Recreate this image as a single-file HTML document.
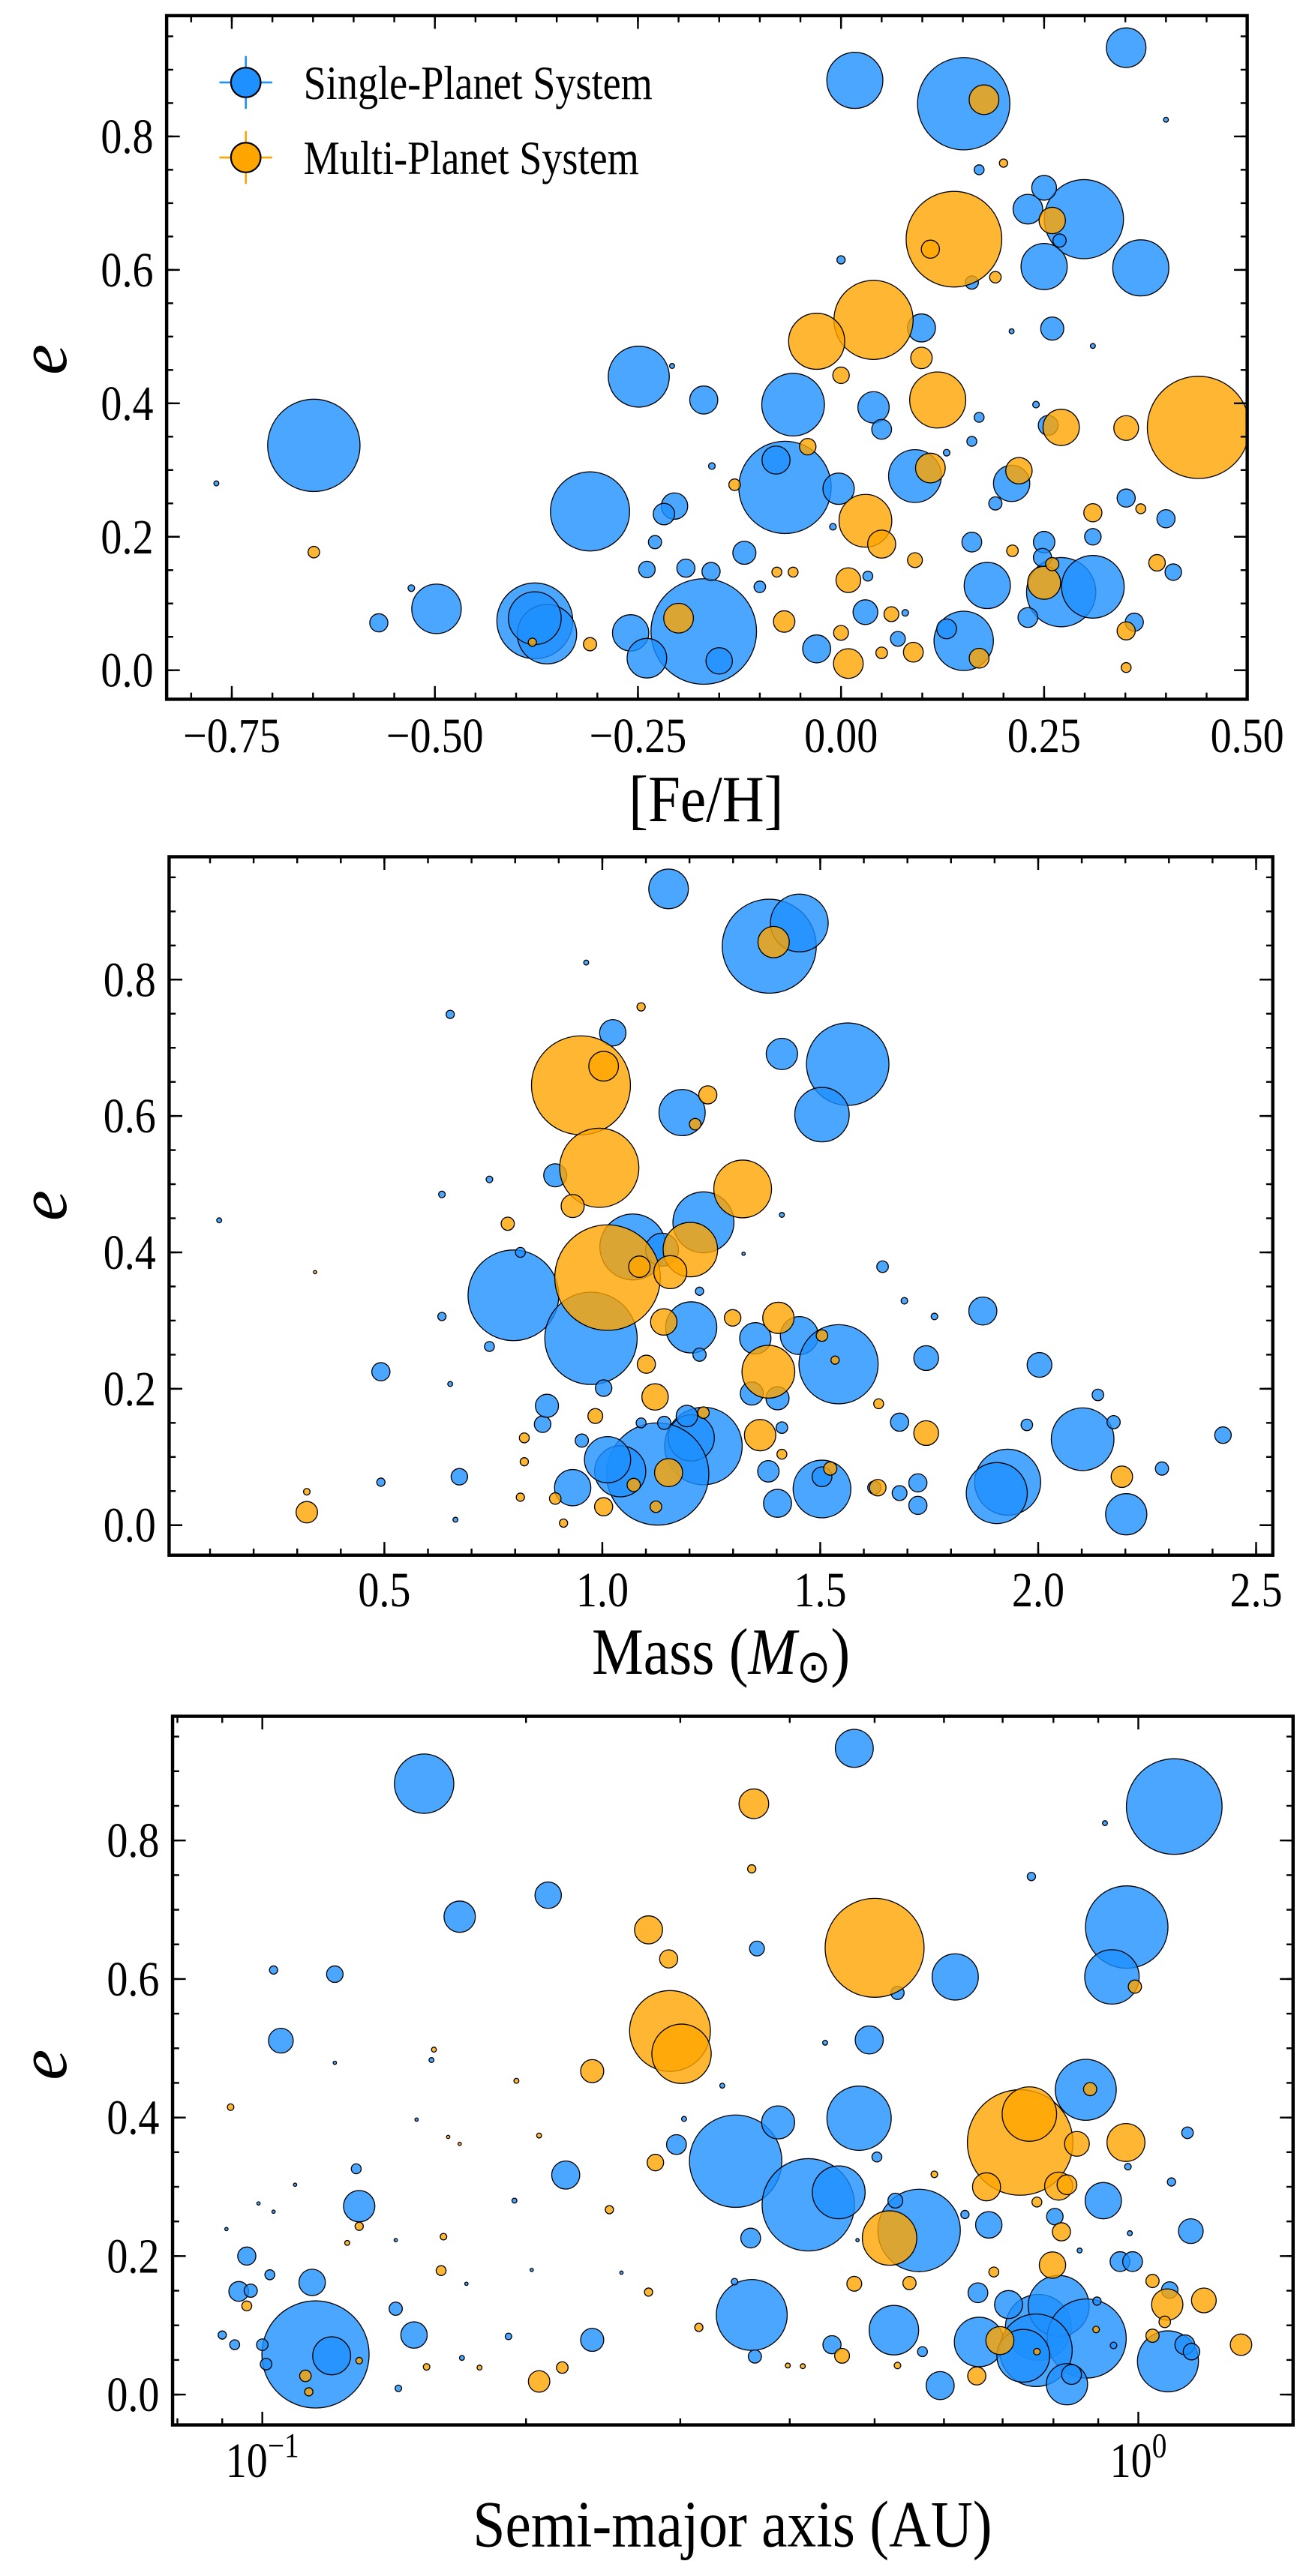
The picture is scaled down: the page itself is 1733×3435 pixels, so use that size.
<!DOCTYPE html>
<html><head><meta charset="utf-8"><style>
html,body{margin:0;padding:0;background:#fff}
svg{display:block}
text{font-family:"Liberation Serif",serif;fill:#000}
</style></head><body>
<svg id="fig" width="1733" height="3435" viewBox="0 0 788 1562" preserveAspectRatio="none" xmlns="http://www.w3.org/2000/svg"></svg>
<script>
// ---------- Panel 1: [Fe/H] vs e ----------
const fehSingle=[-0.649,0.017,0.151,0.351,0.299,0.25,0.369,0.23,0.25,0.269,0.099,0.26,-0.249,-0.169,-0.059,0.04,0.05,-0.069,-0.08,-0.309,-0.003,0.091,0.21,-0.205,-0.218,-0.498,-0.569,-0.377,-0.362,-0.377,-0.169,-0.15,-0.259,-0.239,-0.229,-0.119,-0.239,-0.191,-0.16,-0.1,-0.03,0.03,0.07,0.161,0.18,0.151,0.13,0.25,0.271,0.31,0.31,0.351,0.4,0.409,0.361,0.23,0.248,0.19,0.255,0.17,-0.769,0.4,0.17,0,0.21,0.31,-0.208,0.161,-0.159,-0.01,0.033,0.079,-0.529,0.161,0.13,0.24];
const eFehSingle=[0.337,0.884,0.849,0.933,0.676,0.605,0.603,0.691,0.723,0.644,0.513,0.512,0.44,0.405,0.398,0.394,0.361,0.274,0.315,0.238,0.272,0.291,0.28,0.246,0.234,0.092,0.071,0.074,0.054,0.078,0.058,0.014,0.056,0.018,0.192,0.176,0.151,0.153,0.148,0.125,0.032,0.087,0.047,0.192,0.127,0.044,0.062,0.192,0.117,0.125,0.2,0.258,0.227,0.147,0.072,0.079,0.169,0.25,0.367,0.379,0.28,0.825,0.75,0.615,0.508,0.486,0.456,0.581,0.306,0.215,0.141,0.086,0.123,0.343,0.326,0.398];
const sizeFehSingle=[28,17,28,12,24,14,17,9,7.5,4,8.5,7,18.5,8.5,19,9.5,6,28,8.5,24,9.5,16,11,8,6.5,15,5.5,23,18,16,32,8,11,12,4,7,5,5.5,5.5,3.5,8.5,7.5,4.5,6,14,18,6,6.5,21,19,5,5.5,5.5,5,5.5,6,5.5,4,6,3,1.5,1.5,3,2.5,1.5,1.5,1.5,4,2,2,3,2,2,3,2,2];
const fehMulti=[0.139,0.04,-0.03,0.119,0.44,0.176,0.26,0.11,0.19,0.2,0.099,0,0.271,0.351,-0.041,0.11,0.219,0.03,0.05,0.31,0.369,-0.649,-0.2,-0.07,0.009,0.009,0.089,0.17,0.25,0.389,0.091,0.062,0,0.05,-0.309,-0.131,-0.079,-0.059,0.351,0.351,0.211,0.26,-0.38];
const eFehMulti=[0.646,0.525,0.493,0.405,0.364,0.855,0.674,0.631,0.589,0.76,0.468,0.442,0.364,0.363,0.335,0.303,0.299,0.224,0.189,0.236,0.242,0.177,0.078,0.073,0.135,0.01,0.027,0.018,0.131,0.161,0.165,0.084,0.056,0.026,0.039,0.278,0.147,0.147,0.059,0.004,0.179,0.159,0.042];
const sizeFehMulti=[29,24,17,17,31,9,8,5.5,3.5,2.5,6.5,5,11,7.5,5,9,8,16,8.5,5.5,3,3.5,9,6.5,7.5,9,6,6,10,5,4.5,4.5,4.5,3.5,4,3.5,3,3,5.5,3,3.5,4,2.5];

// ---------- Panel 2: Mass vs e ----------
const massSingle=[1.152,1.383,1.452,1.024,1.412,1.563,1.504,1.183,0.892,1.232,0.796,0.974,1.07,1.137,1.204,1.351,1.452,1.542,1.873,1.743,2.003,2.102,1.93,1.905,2.202,2.424,2.284,2.173,2.137,1.974,1.682,1.724,1.724,1.682,1.624,1.504,1.504,1.402,1.381,1.412,1.232,1.204,1.127,1.041,1.012,0.932,0.953,0.863,0.873,0.672,0.492,1.003,1.343,1.402,1.223,1.643,1.693,1.762,0.651,0.963,0.121,0.632,0.741,0.632,0.741,0.651,0.492,0.663,0.812,1.412,1.324,1.223,1.194,1.142,1.089];
const eMassSingle=[0.933,0.849,0.883,0.722,0.691,0.676,0.602,0.605,0.513,0.444,0.337,0.274,0.408,0.404,0.29,0.274,0.278,0.236,0.314,0.245,0.235,0.126,0.063,0.047,0.016,0.132,0.083,0.151,0.191,0.147,0.151,0.062,0.029,0.047,0.055,0.053,0.071,0.032,0.079,0.143,0.116,0.128,0.075,0.079,0.096,0.055,0.124,0.148,0.175,0.071,0.225,0.201,0.193,0.186,0.25,0.379,0.329,0.306,0.749,0.825,0.447,0.485,0.507,0.306,0.262,0.207,0.063,0.008,0.4,0.455,0.398,0.343,0.16,0.15,0.15];
const sizeMassSingle=[12,28.5,17.5,8,9.5,25,16.5,14,7,18.5,27.5,28,20,10,15.5,9.5,11.5,24,8.5,7.5,7.5,19,20,18.5,12.5,5,4,4,3.5,3.5,5.5,5.5,5.5,4.5,4,17.5,6,8.5,6.5,3.5,23.5,14,31,15.5,14,11,4,5,7,5,5.5,5,7,7,4,3.5,2,2,2.5,1.5,1.5,2,2,2.5,3,1.5,2.5,1.5,3,1.5,1,2.5,6.5,4,3];
const massMulti=[0.951,0.993,1.012,1.322,1.202,1.003,1.393,1.404,1.381,1.242,1.213,1.089,0.932,0.783,1.085,1.156,1.141,1.299,1.101,1.121,1.362,1.743,2.192,1.152,0.984,1.003,1.072,0.322,0.322,0.892,1.123,1.523,1.634,1.504,1.232,0.821,0.821,0.812,0.911,1.632,1.412,1.534,0.341];
const eMassMulti=[0.645,0.524,0.363,0.493,0.404,0.673,0.855,0.304,0.225,0.631,0.588,0.76,0.468,0.442,0.379,0.371,0.298,0.304,0.236,0.188,0.132,0.135,0.071,0.077,0.16,0.027,0.059,0.019,0.049,0.039,0.027,0.083,0.178,0.278,0.165,0.128,0.093,0.041,0.003,0.055,0.104,0.242,0.371];
const sizeMassMulti=[30,24,32,17.5,16.5,9,9.5,9.5,16,5.5,3.5,2.5,7,4,6.5,10,8,5,5.5,8,9.5,7.5,6.5,8.5,4.5,5.5,4,6.5,2,3.5,3.5,4,3,3.5,3.5,3,2.5,2.5,2.5,5,3,2.5,1];

// ---------- Panel 3: Semi-major axis vs e ----------
const axisSingle=[0.153,0.474,1.099,0.212,0.168,0.970,0.933,0.618,0.493,0.105,0.121,0.103,0.871,0.347,0.42,0.48,0.388,0.455,0.562,0.297,0.222,0.129,0.361,0.675,0.912,1.148,0.803,0.953,0.985,0.096,0.114,0.362,0.115,0.12,0.149,0.238,0.526,0.594,0.658,0.769,0.811,0.873,0.764,0.739,1.081,0.829,0.711,0.656,0.839,1.13,1.15,1.086,0.447,0.365,0.528,0.755,0.916,0.367,0.531,0.09,0.093,0.1,0.101,0.094,0.097,0.102,0.128,0.142,0.503,1.138,0.567,0.937,0.156,0.191,0.143,0.169,1.091,0.973,0.634,0.897,0.439,0.121,0.194,0.109,0.099,0.103,0.091,0.15,0.303,0.335,0.257,0.171,0.142,0.203,0.346,0.478,0.978,0.857];
const eAxisSingle=[0.882,0.933,0.849,0.721,0.69,0.675,0.603,0.603,0.512,0.511,0.607,0.613,0.44,0.337,0.274,0.399,0.393,0.292,0.237,0.361,0.317,0.272,0.226,0.245,0.28,0.236,0.257,0.192,0.192,0.2,0.162,0.115,0.058,0.056,0.086,0.079,0.093,0.013,0.076,0.097,0.128,0.081,0.064,0.056,0.048,0.015,0.13,0.147,0.029,0.072,0.062,0.151,0.072,0.055,0.28,0.748,0.825,0.644,0.58,0.086,0.072,0.072,0.044,0.149,0.15,0.173,0.326,0.124,0.343,0.378,0.062,0.071,0.483,0.084,0.009,0.053,0.307,0.329,0.26,0.135,0.508,0.479,0.28,0.303,0.276,0.264,0.239,0.397,0.398,0.446,0.176,0.16,0.223,0.18,0.163,0.223,0.233,0.208];
const sizeAxisSingle=[18,11.5,29,8,9.5,25,16.5,14,8.5,7.5,5,2.5,18.5,28,28,19.5,10,16,25,6,8.5,9.5,6,8,11,7.5,5,6,6,5.5,8,21.5,32.5,11.5,8,7,15,8.5,15,20,18.5,24,22,16,18.5,12.5,8.5,6,6,6,5,5,5.5,4,4.5,2.5,1.5,4.5,4,2.5,3,3.5,3.5,6,4,3,3,4,3,3.5,3,2,1.5,2,2,1.5,2.5,2,2.5,2.5,1.5,1,1.5,1,1,1,1,1,1.5,1.5,1,1,1,1,2,1,1.5,1.5];
const axisMulti=[0.5,0.292,0.301,0.733,0.52,0.364,0.276,0.291,0.238,0.362,0.968,0.851,0.751,0.881,0.991,0.281,0.671,0.811,0.829,0.766,0.817,0.798,1.079,1.188,1.31,1.038,1.038,1.072,0.695,0.654,0.459,0.474,0.548,0.684,0.207,0.22,0.16,0.276,0.315,0.249,0.129,0.096,0.112,0.113,0.092,0.154,0.531,0.161,0.766,0.895,0.585,0.207,0.195,0.157,0.398,0.414,0.129,0.177,0.168,0.163,0.125];
const eAxisMulti=[0.645,0.525,0.492,0.364,0.226,0.853,0.671,0.629,0.467,0.759,0.364,0.362,0.405,0.441,0.589,0.335,0.3,0.301,0.303,0.278,0.235,0.187,0.13,0.136,0.072,0.164,0.085,0.105,0.078,0.027,0.056,0.16,0.161,0.177,0.019,0.039,0.179,0.148,0.097,0.267,0.243,0.128,0.027,0.004,0.415,0.04,0.042,0.228,0.062,0.094,0.318,0.374,0.453,0.498,0.042,0.041,0.049,0.039,0.362,0.372,0.219];
const sizeAxisMulti=[30,24.5,18,32,16.5,9,8.5,5.5,7,2.5,11.5,7.5,16.5,4,4,5,8.5,8.5,6,3,5.5,8,9.5,7.5,6.5,4,4,3.5,8.5,5.5,4.5,4.5,4,3,6.5,3.5,3,2.5,2.5,2.5,2.5,3,3.5,2.5,2,2,2,2,2,2,2,1.5,1.5,1.5,1.5,1.5,2,1.5,1,1,1.5];

const xTicksFeh=["−0.75","−0.50","−0.25","0.00","0.25","0.50"];
const xTickValsFeh=[-0.75,-0.5,-0.25,0,0.25,0.5];
const xTicksMass=["0.5","1.0","1.5","2.0","2.5"];
const xTickValsMass=[0.5,1.0,1.5,2.0,2.5];
const yTicks=["0.0","0.2","0.4","0.6","0.8"];
const yTickVals=[0,0.2,0.4,0.6,0.8];

const NS="http://www.w3.org/2000/svg";
const svg=document.getElementById('fig');
const BLUE="#1e90ff",ORANGE="#ffa500";
const SX=0.85; // horizontal condensation of text
function mk(tag,attrs,parent){const el=document.createElementNS(NS,tag);for(const k in attrs)el.setAttribute(k,attrs[k]);(parent||svg).appendChild(el);return el;}
function ctext(parent,x,y,anchor,size,sx){return mk('text',{x:0,y:0,'text-anchor':anchor,'font-size':size,transform:'translate('+x+','+y+') scale('+(sx||SX)+',1)'},parent);}

function panel(cfg){
  const g=mk('g',{});
  
  
  const {L,R,T,B}=cfg;
  const sx=cfg.sx, sy=v=>cfg.y0-(v)*cfg.ky;
  const clipId=cfg.name+'-clip';
  const cp=mk('clipPath',{id:clipId},g);mk('rect',{x:L,y:T,width:R-L,height:B-T},cp);
  const pg=mk('g',{'clip-path':'url(#'+clipId+')'},g);
  
  
  function series(xs,es,ss,col,nm){
    for(let i=0;i<xs.length;i++){
      const c=mk('circle',{cx:sx(xs[i]),cy:sy(es[i]),r:ss[i],fill:col,'fill-opacity':0.8,stroke:'#000','stroke-width':0.6},pg);
      
      
    }
  }
  series(cfg.bx,cfg.be,cfg.bs,BLUE,'single-planet');
  series(cfg.ox,cfg.oe,cfg.os,ORANGE,'multi-planet');
  const tk=mk('g',{stroke:'#000','stroke-width':1.1},g);
  
  
  function xt(v,len){const x=sx(v);if(x<L-0.5||x>R+0.5)return;mk('line',{x1:x,x2:x,y1:B,y2:B-len},tk);mk('line',{x1:x,x2:x,y1:T,y2:T+len},tk);}
  function yt(v,len){const y=sy(v);if(y<T-0.5||y>B+0.5)return;mk('line',{x1:L,x2:L+len,y1:y,y2:y},tk);mk('line',{x1:R,x2:R-len,y1:y,y2:y},tk);}
  cfg.xMinor.forEach(v=>xt(v,4));cfg.xMajor.forEach(v=>xt(v,8));
  for(let v=-0.05;v<=1.0001;v+=0.05)yt(+v.toFixed(2),4);
  yTickVals.forEach(v=>yt(v,8));
  const frame=mk('rect',{x:L,y:T,width:R-L,height:B-T,fill:'none',stroke:'#000','stroke-width':2},g);
  
  
  yTickVals.forEach((v,i)=>{const t=ctext(g,L-8,sy(v)+10,'end',30);t.textContent=yTicks[i];
    
    });
  cfg.xLabels(g,sx,B);
  const xl=ctext(g,cfg.xlx,cfg.xly,'middle',40,0.88);xl.innerHTML=cfg.xlabel;
  
  
  const yl=mk('text',{x:0,y:0,'text-anchor':'middle','font-size':42,'font-style':'italic',transform:'translate('+40+','+cfg.yly+') rotate(-90)'},g);yl.textContent='e';
  
  
}

function linLabels(vals,labs,base){return function(g,sx){vals.forEach((v,i)=>{const t=ctext(g,sx(v),base,'middle',30);t.textContent=labs[i];
  
  });};}
function range(a,b,s){const r=[];for(let v=a;v<=b+1e-9;v+=s)r.push(+v.toFixed(3));return r;}

const k1=492.4,x01=509.8;
panel({name:'feh-panel',L:101,R:756,T:9.5,B:424,sx:v=>x01+v*k1,y0:406.4,ky:404.6,
  bx:fehSingle,be:eFehSingle,bs:sizeFehSingle,ox:fehMulti,oe:eFehMulti,os:sizeFehMulti,
  xMajor:xTickValsFeh,xMinor:range(-0.85,0.5,0.05),xLabels:linLabels(xTickValsFeh,xTicksFeh,456),
  xlabel:'[Fe/H]',xlx:428,xly:498,yly:218});
panel({name:'mass-panel',L:102.5,R:771.5,T:519.5,B:943,sx:v=>233+(v-0.5)*264.2,y0:924.8,ky:413.5,
  bx:massSingle,be:eMassSingle,bs:sizeMassSingle,ox:massMulti,oe:eMassMulti,os:sizeMassMulti,
  xMajor:xTickValsMass,xMinor:range(0,2.6,0.1),xLabels:linLabels(xTickValsMass,xTicksMass,974),
  xlabel:'Mass (<tspan font-style="italic">M</tspan><tspan font-size="28" dy="5">⊙</tspan><tspan dy="-5">)</tspan>',xlx:437,xly:1015,yly:731});
const sx3=v=>159+(Math.log10(v)+1)*531;
const logMinor=[];[0.01,0.1,1].forEach(d=>{for(let m=2;m<=9;m++)logMinor.push(m*d);});
panel({name:'axis-panel',L:104.6,R:783.8,T:1040.7,B:1470.4,sx:sx3,y0:1452,ky:420,
  bx:axisSingle,be:eAxisSingle,bs:sizeAxisSingle,ox:axisMulti,oe:eAxisMulti,os:sizeAxisMulti,
  xMajor:[0.1,1],xMinor:logMinor,
  xLabels:function(g,sx){[[0.1,'−1'],[1,'0']].forEach(p=>{const t=ctext(g,sx(p[0]),1502,'middle',30);
    t.innerHTML='10<tspan dy="-12" font-size="21">'+p[1]+'</tspan>';
    
    });},
  xlabel:'Semi-major axis (AU)',xlx:444,xly:1544,yly:1252});

const lg=mk('g',{});


[[50,BLUE,'Single-Planet System','legend-entry-single'],[95.5,ORANGE,'Multi-Planet System','legend-entry-multi']].forEach(r=>{
  const e=mk('g',{},lg);
  
  
  mk('line',{x1:133,x2:165,y1:r[0],y2:r[0],stroke:r[1],'stroke-width':1.2},e);
  mk('line',{x1:149,x2:149,y1:r[0]-16,y2:r[0]+16,stroke:r[1],'stroke-width':1.2},e);
  mk('circle',{cx:149,cy:r[0],r:9,fill:r[1],stroke:'#000','stroke-width':1},e);
  const t=ctext(e,184,r[0]+10,'start',29);t.textContent=r[2];
});
</script>
</body></html>
